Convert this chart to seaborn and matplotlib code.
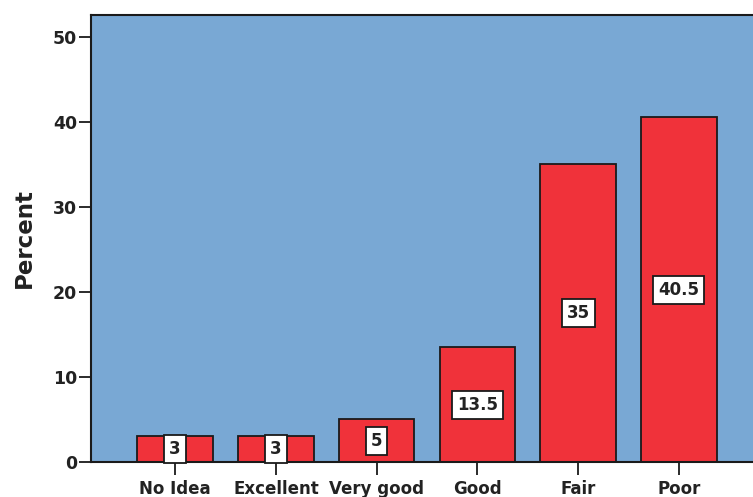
import matplotlib
matplotlib.use("Agg")
import matplotlib.pyplot as plt
import seaborn as sns
import pandas as pd

categories = ["No Idea", "Excellent", "Very good", "Good", "Fair", "Poor"]
percents = [3, 3, 5, 13.5, 35, 40.5]
value_labels = ["3", "3", "5", "13.5", "35", "40.5"]
yticks = [0, 10, 20, 30, 40, 50]

sns.set_theme(style="white")
plt.rcParams["font.family"] = ["DejaVu Sans"]

df = pd.DataFrame({"Category": categories, "Percent": percents})

fig = plt.figure(figsize=(7.53, 4.97), dpi=100)
ax = fig.add_axes([91 / 753, (497 - 462) / 497, 672 / 753, 447 / 497])
ax.set_facecolor("#79A8D4")

sns.barplot(data=df, x="Category", y="Percent", color="#F0323A", saturation=1,
            width=0.75, edgecolor="#1a1a1a", linewidth=1.3, ax=ax)

for i, (v, lab) in enumerate(zip(percents, value_labels)):
    ax.text(i, v / 2, lab, ha="center", va="center", fontsize=12, fontweight="bold",
            color="#222222",
            bbox=dict(boxstyle="square,pad=0.3", facecolor="white", edgecolor="#1a1a1a", linewidth=1.3))

ax.set_xlim(-0.835, 5.835)
ax.set_ylim(0, 52.55)
ax.set_yticks(yticks)
ax.set_yticklabels([str(t) for t in yticks])
ax.tick_params(axis="y", which="major", left=True, direction="out", length=9, width=1.3,
               color="#1a1a1a", labelsize=12.5, pad=1)
ax.tick_params(axis="x", which="major", bottom=True, direction="out", length=9, width=1.3,
               color="#1a1a1a", labelsize=12, pad=4)
for lab in ax.get_xticklabels() + ax.get_yticklabels():
    lab.set_fontweight("bold")
    lab.set_color("#222222")

ax.set_xlabel("")
ax.set_ylabel("Percent", fontsize=16.5, fontweight="bold", color="#222222", labelpad=12)

for s in ["left", "top", "bottom", "right"]:
    ax.spines[s].set_visible(True)
    ax.spines[s].set_color("#1a1a1a")
    ax.spines[s].set_linewidth(1.5)

fig.savefig("out.png", dpi=100, facecolor="white")
